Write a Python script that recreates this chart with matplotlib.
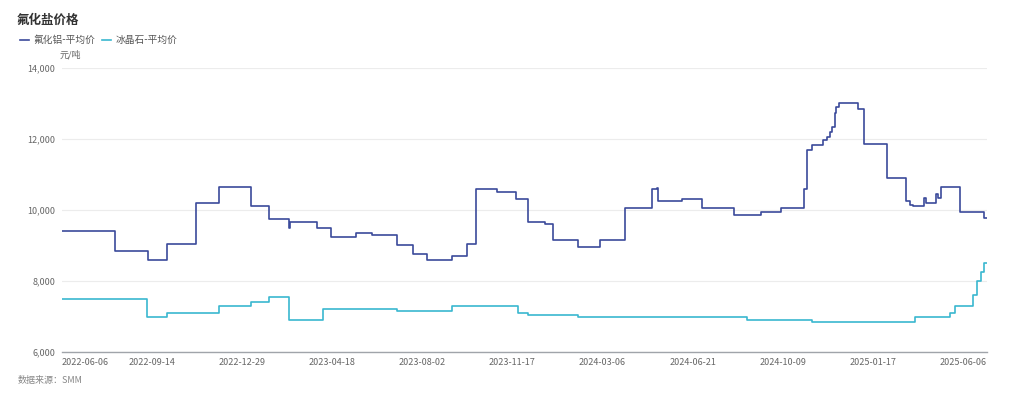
import matplotlib
matplotlib.use("Agg")
import matplotlib.pyplot as plt
import numpy as np

plt.rcParams['font.family'] = ['Noto Sans CJK SC', 'DejaVu Sans']

# 横轴为交易日序号（类目轴），刻度标签每 71 个交易日一个
tick_labels = ['2022-06-06', '2022-09-14', '2022-12-29', '2023-04-18', '2023-08-02',
               '2023-11-17', '2024-03-06', '2024-06-21', '2024-10-09', '2025-01-17',
               '2025-06-06']
tick_idx = [0, 71, 142, 213, 284, 355, 426, 497, 568, 639, 729]
last_idx = 729

# 氟化铝-平均价：价格变动点（交易日序号, 元/吨）
alf_idx = [0, 42, 68, 83, 106, 124, 149, 163, 179, 180, 201, 212, 232, 244, 264,
           277, 288, 307, 319, 326, 343, 358, 367, 381, 387, 407, 424, 444, 465,
           469, 470, 489, 504, 530, 551, 567, 585, 587, 591, 600, 603, 605, 607,
           609, 610, 612, 627, 632, 650, 665, 668, 671, 679, 681, 689, 690, 693,
           708, 727]
alf_val = [9400, 8850, 8600, 9050, 10200, 10650, 10100, 9750, 9500, 9650, 9500,
           9250, 9350, 9300, 9000, 8750, 8600, 8700, 9050, 10600, 10500, 10300,
           9650, 9600, 9150, 8950, 9150, 10050, 10600, 10620, 10250, 10300, 10050,
           9850, 9950, 10050, 10600, 11700, 11830, 11970, 12065, 12200, 12350,
           12720, 12900, 13000, 12850, 11850, 10900, 10250, 10150, 10100, 10350,
           10200, 10450, 10350, 10650, 9950, 9770]

# 冰晶石-平均价
cry_idx = [0, 67, 83, 124, 149, 163, 179, 206, 264, 307, 359, 367, 407, 540,
           591, 672, 700, 704, 718, 721, 724, 727]
cry_val = [7500, 7000, 7100, 7300, 7400, 7550, 6900, 7200, 7150, 7300, 7100,
           7050, 7000, 6900, 6850, 7000, 7100, 7300, 7600, 8000, 8250, 8500]

c_alf = '#3b4a9b'
c_cry = '#3ab7cf'

fig = plt.figure(figsize=(10.24, 3.99), dpi=100)
ax = fig.add_axes([62 / 1024, 1 - 352 / 399, (987 - 62) / 1024, (352 - 68) / 399])

ax.step(alf_idx + [last_idx], alf_val + [alf_val[-1]], where='post',
        color=c_alf, lw=1.2, label='氟化铝-平均价')
ax.step(cry_idx + [last_idx], cry_val + [cry_val[-1]], where='post',
        color=c_cry, lw=1.2, label='冰晶石-平均价')

ax.set_xlim(0, last_idx)
ax.set_ylim(6000, 14000)
ax.set_yticks(np.arange(6000, 14001, 2000))
ax.set_yticklabels([f'{v:,}' for v in range(6000, 14001, 2000)])
ax.grid(axis='y', color='#ececec', lw=0.8)
ax.set_axisbelow(True)
for s in ['top', 'right', 'left']:
    ax.spines[s].set_visible(False)
ax.spines['bottom'].set_color('#a0a4aa')
ax.spines['bottom'].set_linewidth(1.0)
ax.tick_params(axis='y', length=0, labelsize=6.5, labelcolor='#666666', pad=5)
ax.tick_params(axis='x', length=0, labelsize=6.5, labelcolor='#666666', pad=4)

ax.set_xticks(tick_idx)
ax.set_xticklabels(tick_labels)
lbls = ax.get_xticklabels()
lbls[0].set_ha('left')
lbls[-1].set_ha('right')

fig.text(17 / 1024, 1 - 20 / 399, '氟化盐价格', fontsize=9, fontweight='bold',
         color='#333333', va='center', ha='left')
fig.text(60 / 1024, 1 - 55 / 399, '元/吨', fontsize=6.5, color='#666666',
         va='center', ha='left')
fig.text(18 / 1024, 1 - 381 / 399, '数据来源：SMM', fontsize=6.5, color='#888888',
         va='center', ha='left')

fig.legend(loc='center left', bbox_to_anchor=(11 / 1024, 1 - 40 / 399), ncol=2,
           frameon=False, fontsize=7, handlelength=1.0, handletextpad=0.45,
           columnspacing=0.6, labelcolor='#555555')

fig.savefig('out.png', dpi=100)
